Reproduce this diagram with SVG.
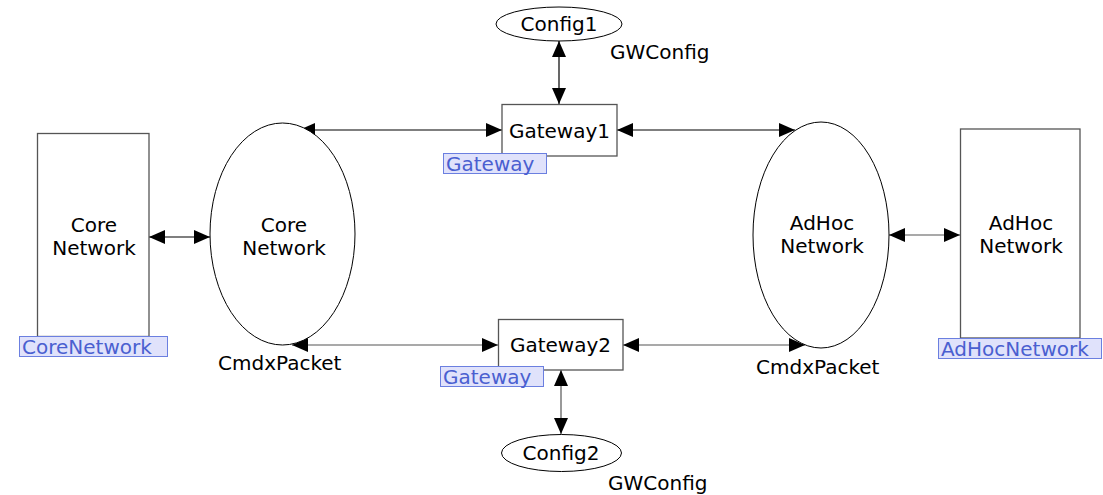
<svg xmlns="http://www.w3.org/2000/svg" width="1103" height="495" viewBox="0 0 1103 495">
  <style>
    .box { fill: #ffffff; stroke: #555555; stroke-width: 1.3; }
    .oval { fill: #ffffff; stroke: #000000; stroke-width: 1; }
    .lbl { font-family: "DejaVu Sans", Verdana, sans-serif; font-size: 20px; fill: #000000; }
    .mid { text-anchor: middle; }
    .tag { fill: #e0e2fb; stroke: #6b7fe0; stroke-width: 1; }
    .tagtxt { font-family: "DejaVu Sans", Verdana, sans-serif; font-size: 20px; fill: #4a5fd0; }
    .wire { fill: none; stroke: #000000; stroke-width: 1.2; marker-start: url(#head); marker-end: url(#head); }
    .wire.grey { stroke: #555555; }
  </style>
  <defs>
    <marker id="head" viewBox="0 0 16 14" refX="16" refY="7" markerWidth="16" markerHeight="14" markerUnits="userSpaceOnUse" orient="auto-start-reverse">
      <path d="M0,0 L16,7 L0,14 Z" fill="#000000"/>
    </marker>
  </defs>
  <rect width="1103" height="495" fill="#ffffff"/>

  <!-- connectors -->
  <g id="connectors">
    <line class="wire" x1="149" y1="237" x2="210" y2="237"/>
    <line class="wire" x1="299" y1="130" x2="502" y2="130"/>
    <line class="wire" x1="617" y1="130" x2="795" y2="130"/>
    <line class="wire" x1="559" y1="41" x2="559" y2="104"/>
    <line class="wire grey" x1="292" y1="345" x2="498" y2="345"/>
    <line class="wire grey" x1="623" y1="345" x2="805" y2="345"/>
    <line class="wire grey" x1="561" y1="370" x2="561" y2="434"/>
    <line class="wire grey" x1="889" y1="235" x2="960" y2="235"/>
  </g>

  <!-- core network module -->
  <g id="core-module">
    <rect class="box" x="37.5" y="133.5" width="111.5" height="203"/>
    <text class="lbl mid" x="94" y="232">Core</text>
    <text class="lbl mid" x="94" y="255">Network</text>
    <rect class="tag" x="19.5" y="336.5" width="148" height="20"/>
    <text class="tagtxt" x="22" y="354">CoreNetwork</text>
  </g>

  <!-- core network place -->
  <g id="core-place">
    <ellipse class="oval" cx="282.5" cy="234" rx="72.5" ry="111"/>
    <text class="lbl mid" x="284" y="232">Core</text>
    <text class="lbl mid" x="284" y="255">Network</text>
    <text class="lbl" x="218" y="370">CmdxPacket</text>
  </g>

  <!-- gateway 1 -->
  <g id="gateway1">
    <rect class="box" x="502" y="104.5" width="115" height="51.5"/>
    <text class="lbl mid" x="559.5" y="138">Gateway1</text>
    <rect class="tag" x="443.5" y="153.5" width="103" height="20"/>
    <text class="tagtxt" x="446" y="171">Gateway</text>
  </g>

  <!-- config 1 -->
  <g id="config1">
    <ellipse class="oval" cx="559" cy="24" rx="63" ry="17"/>
    <text class="lbl mid" x="559" y="31">Config1</text>
    <text class="lbl" x="610" y="59">GWConfig</text>
  </g>

  <!-- gateway 2 -->
  <g id="gateway2">
    <rect class="box" x="498.5" y="319.5" width="124.5" height="50.5"/>
    <text class="lbl mid" x="560.5" y="352">Gateway2</text>
    <rect class="tag" x="440.5" y="366.5" width="103" height="20"/>
    <text class="tagtxt" x="443" y="384">Gateway</text>
  </g>

  <!-- config 2 -->
  <g id="config2">
    <ellipse class="oval" cx="561.5" cy="453" rx="60" ry="18.5"/>
    <text class="lbl mid" x="561" y="460">Config2</text>
    <text class="lbl" x="608" y="490">GWConfig</text>
  </g>

  <!-- adhoc network place -->
  <g id="adhoc-place">
    <ellipse class="oval" cx="821" cy="235" rx="68" ry="113"/>
    <text class="lbl mid" x="822" y="230">AdHoc</text>
    <text class="lbl mid" x="822" y="253">Network</text>
    <text class="lbl" x="756" y="374">CmdxPacket</text>
  </g>

  <!-- adhoc network module -->
  <g id="adhoc-module">
    <rect class="box" x="960.5" y="129" width="119.5" height="209"/>
    <text class="lbl mid" x="1021" y="230">AdHoc</text>
    <text class="lbl mid" x="1021" y="253">Network</text>
    <rect class="tag" x="938.5" y="338.5" width="163" height="20"/>
    <text class="tagtxt" x="941" y="356">AdHocNetwork</text>
  </g>
</svg>
